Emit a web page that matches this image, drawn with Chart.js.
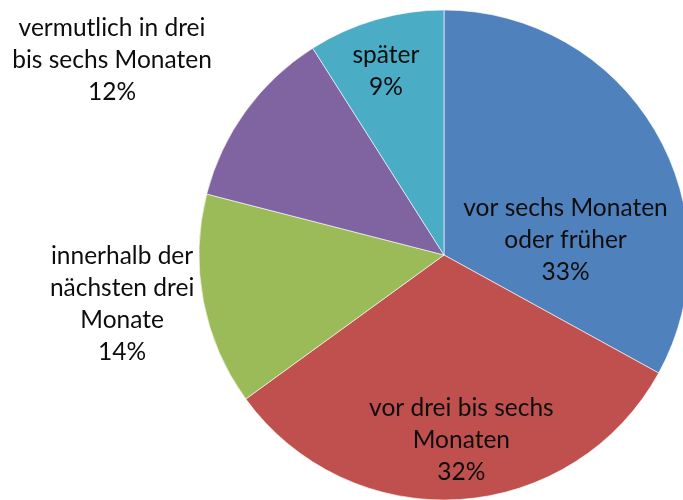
<!DOCTYPE html>
<html>
<head>
<meta charset="utf-8">
<script src="https://cdn.jsdelivr.net/npm/chart.js@4"></script>
<style>
  html, body { margin: 0; padding: 0; background: #fff; overflow: hidden; }
  #wrap { position: absolute; left: 0; top: 0; width: 700px; height: 500px; }
</style>
</head>
<body>
<div id="wrap"><canvas id="myChart"></canvas></div>
<script>
const categories = [
  "vor sechs Monaten oder früher",
  "vor drei bis sechs Monaten",
  "innerhalb der nächsten drei Monate",
  "vermutlich in drei bis sechs Monaten",
  "später"
];
const shares = [33, 32, 14, 12, 9];
const labelLines = [
  ["vor sechs Monaten", "oder früher"],
  ["vor drei bis sechs", "Monaten"],
  ["innerhalb der", "nächsten drei", "Monate"],
  ["vermutlich in drei", "bis sechs Monaten"],
  ["später"]
];
const colors = ["#4F81BD", "#C0504D", "#9BBB59", "#8064A2", "#4BACC6"];
// label block centre, relative to pie centre in units of radius
const labelPos = [[0.496, -0.061], [0.071, 0.755], [-1.314, 0.2], [-1.355, -0.796], [-0.237, -0.749]];

const pieLabels = {
  id: "pieLabels",
  afterDatasetsDraw(chart) {
    const ctx = chart.ctx;
    const arcs = chart.getDatasetMeta(0).data;
    ctx.save();
    ctx.font = "24.5px Lato";
    ctx.fillStyle = "#0d0d0d";
    ctx.textAlign = "center";
    ctx.textBaseline = "middle";
    const lh = 32;
    arcs.forEach((arc, i) => {
      const lines = labelLines[i].concat([shares[i] + "%"]);
      const cx = arc.x + labelPos[i][0] * arc.outerRadius;
      const cy = arc.y + labelPos[i][1] * arc.outerRadius;
      const top = cy - (lines.length - 1) * lh / 2;
      lines.forEach((t, j) => ctx.fillText(t, cx, top + j * lh));
    });
    ctx.restore();
  }
};

let myChart = new Chart(document.getElementById("myChart"), {
  type: "pie",
  data: {
    labels: categories,
    datasets: [{
      data: shares,
      backgroundColor: colors,
      borderColor: "rgba(255,255,255,0.6)",
      borderWidth: 1,
      radius: 245
    }]
  },
  options: {
    responsive: true,
    maintainAspectRatio: false,
    animation: false,
    layout: { padding: { left: 199, top: 10, right: 11, bottom: 0 } },
    plugins: {
      legend: { display: false },
      tooltip: { enabled: false }
    }
  },
  plugins: [pieLabels]
});
</script>
</body>
</html>
